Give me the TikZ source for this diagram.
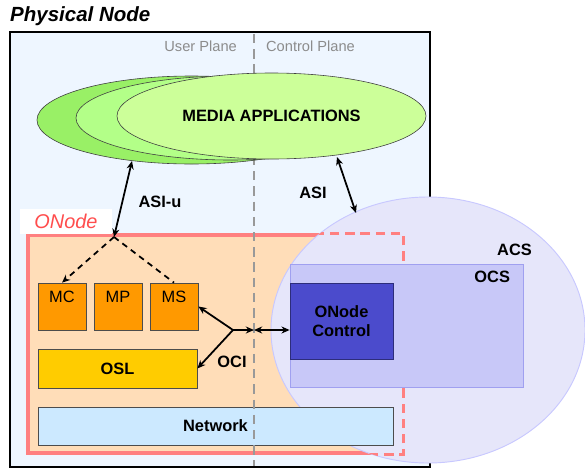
\documentclass[tikz,border=0pt]{standalone}
\usepackage{fontspec}
\setmainfont{Liberation Sans}
\usetikzlibrary{shapes.geometric, arrows.meta, positioning}
\usepackage{xcolor}

\definecolor{physfill}{HTML}{EEF6FF}
\definecolor{onodefill}{HTML}{FFDDB8}
\definecolor{onodeline}{HTML}{FF8080}
\definecolor{onodetext}{HTML}{FF4D4D}
\definecolor{acsfill}{HTML}{E6E6FA}
\definecolor{acsline}{HTML}{C8C8FF}
\definecolor{ocsfill}{HTML}{C8C8F8}
\definecolor{ocsline}{HTML}{A0A0F0}
\definecolor{ctrlfill}{HTML}{4B4BCC}
\definecolor{modorange}{HTML}{FF9900}
\definecolor{oslfill}{HTML}{FFCC00}
\definecolor{netfill}{HTML}{CCE9FF}
\definecolor{greenA}{HTML}{99F066}
\definecolor{greenB}{HTML}{B3FF88}
\definecolor{greenC}{HTML}{CCFF99}

\begin{document}
\begin{tikzpicture}[x=0.03cm, y=-0.03cm,
        >={Stealth[length=7pt, width=6pt]},
        box/.style={rectangle, draw=black!70, line width=0.6pt, inner sep=0pt, font=\fontsize{14}{16}\selectfont},
        modbox/.style={box, fill=modorange, minimum width=1.44cm, minimum height=1.41cm},
        media/.style={ellipse, draw=black!75, line width=0.5pt, inner sep=0pt, minimum width=9.27cm},
        lbl/.style={font=\fontsize{14}{16}\selectfont\bfseries},
        plane/.style={text=black!45, font=\fontsize{12.5}{14}\selectfont},
        link/.style={line width=1.5pt}
    ]
        \useasboundingbox (0,0) rectangle (585,471);

        % Physical node
        \node[rectangle, draw, line width=2.2pt, fill=physfill, minimum width=12.6cm, minimum height=13.05cm] (phys) at (220,249.5) {};
        \node[anchor=south west, inner sep=0pt, font=\fontsize{17.5}{20}\selectfont\bfseries\itshape] (title) at (10,26) {Physical Node};
        \node[plane, anchor=east] (user) at (241,46) {User Plane};
        \node[plane, anchor=west] (control) at (262,46) {Control Plane};

        % ONode and ACS
        \node[rectangle, draw=onodeline, line width=2.6pt, fill=onodefill, minimum width=11.22cm, minimum height=6.54cm] (onode) at (215,344) {};
        \node[ellipse, draw=acsline, line width=0.8pt, fill=acsfill, inner sep=0pt, minimum width=9.42cm, minimum height=7.98cm] (acs) at (428,330) {};
        \begin{scope}
            \path[clip] (acs.center) ellipse [x radius=157, y radius=133];
            \draw[onodeline, line width=2.6pt, dash pattern=on 8pt off 5pt] (onode.north west) rectangle (onode.south east);
        \end{scope}
        \node[lbl, anchor=east] (acslbl) at (536,250) {ACS};
        \node[rectangle, draw=ocsline, line width=0.8pt, fill=ocsfill, minimum width=6.99cm, minimum height=3.69cm] (ocs) at (406.5,325.5) {};
        \node[lbl, anchor=north east] (ocslbl) at ([xshift=-8pt, yshift=-3pt]ocs.north east) {OCS};
        \node[box, fill=ctrlfill, draw=ctrlfill!60!black, minimum width=3.09cm, minimum height=2.28cm, align=center, font=\fontsize{14}{16}\selectfont\bfseries] (ctrl) at (341.5,321) {ONode\\Control};

        % Modules
        \node[modbox, label={[anchor=north, yshift=-4pt, font=\fontsize{14}{16}\selectfont]north:MC}] (mc) at (62,306.5) {};
        \node[modbox, label={[anchor=north, yshift=-4pt, font=\fontsize{14}{16}\selectfont]north:MP}] (mp) at (118,306.5) {};
        \node[modbox, label={[anchor=north, yshift=-4pt, font=\fontsize{14}{16}\selectfont]north:MS}] (ms) at (174,306.5) {};
        \node[box, fill=oslfill, minimum width=4.77cm, minimum height=1.17cm, font=\fontsize{14}{16}\selectfont\bfseries] (osl) at (117.5,368.5) {OSL};
        \node[box, fill=netfill, minimum width=10.65cm, minimum height=1.14cm, font=\fontsize{14}{16}\selectfont\bfseries] (net) at (215.5,426) {Network};

        % Plane separator
        \draw[black!40, line width=1.6pt, dash pattern=on 8pt off 5pt] (254,34) -- (254,466);

        % Media applications
        \node[media, fill=greenA, minimum height=2.64cm] (appsA) at (191.5,120) {};
        \node[media, fill=greenB, minimum height=2.52cm] (appsB) at (230.5,118) {};
        \node[media, fill=greenC, minimum height=2.58cm, font=\fontsize{14}{16}\selectfont\bfseries] (apps) at (271.5,116) {MEDIA APPLICATIONS};

        % ONode label
        \node[fill=white, minimum width=2.76cm, minimum height=0.75cm, text=onodetext, font=\fontsize{17}{19}\selectfont\itshape] (onodelbl) at (66,221) {ONode};

        % Interfaces
        \coordinate (asiuA) at (132,161);
        \coordinate (split) at (114,237);
        \coordinate (asiA) at (337,157);
        \coordinate (asiB) at (356,213);
        \coordinate (oci) at (233,330);
        \coordinate (sep) at (254,330);

        \draw[link, <->] (asiuA) -- (split);
        \draw[link, ->, dash pattern=on 5pt off 4pt] (split) -- (mc.north);
        \draw[link, dash pattern=on 5pt off 4pt] (split) -- (ms.north);
        \draw[link, <->] (asiA) -- (asiB);
        \draw[link, ->] (oci) -- (ms.east);
        \draw[link, ->] (oci) -- (osl.east);
        \draw[link, ->] (oci) -- (sep);
        \draw[link, <->] (sep) -- (sep -| ctrl.west);

        \node[lbl] (asiulbl) at (160,202) {ASI-u};
        \node[lbl] (asilbl) at (313,193) {ASI};
        \node[lbl] (ocilbl) at (232,362) {OCI};
    \end{tikzpicture}
\end{document}
